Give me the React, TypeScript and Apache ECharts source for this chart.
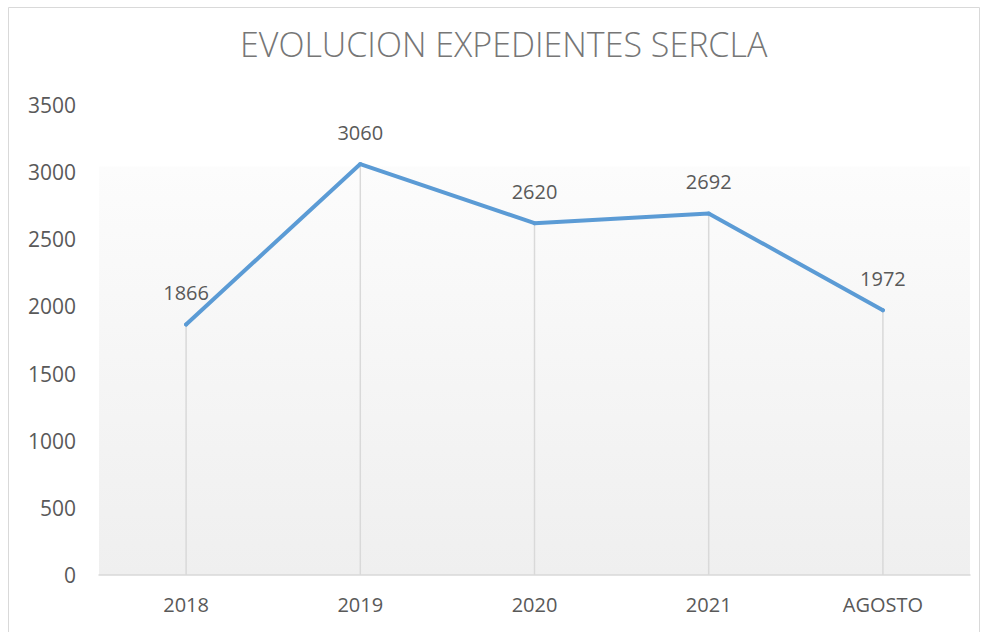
import React, { useEffect, useRef } from "react";
import * as echarts from "echarts";

const categories = ["2018", "2019", "2020", "2021", "AGOSTO"];
const values = [1866, 3060, 2620, 2692, 1972];
const titleText = "EVOLUCION EXPEDIENTES SERCLA";

export default function App() {
  const ref = useRef<HTMLDivElement>(null);
  useEffect(() => {
    const chart = echarts.init(ref.current!, null, { renderer: "svg" });
    const font = "'Open Sans', sans-serif";
    chart.setOption({
      animation: false,
      backgroundColor: "#ffffff",
      title: {
        text: titleText,
        left: 240,
        top: 27,
        padding: 0,
        textStyle: { fontFamily: font, fontSize: 34, fontWeight: 300, color: "#767676" },
      },
      graphic: [
        {
          type: "rect",
          shape: { x: 8.5, y: 7.5, width: 971, height: 640 },
          style: { fill: "none", stroke: "#d9d9d9", lineWidth: 1 },
          silent: true,
          z: -1,
        },
      ],
      grid: {
        left: 99,
        right: 17,
        top: 105,
        bottom: 57,
        show: true,
        borderWidth: 0,
        backgroundColor: {
          type: "linear",
          x: 0,
          y: 0,
          x2: 0,
          y2: 1,
          colorStops: [
            { offset: 0, color: "#ffffff" },
            { offset: 0.13, color: "#ffffff" },
            { offset: 0.132, color: "#fcfcfc" },
            { offset: 1, color: "#efefef" },
          ],
        },
      },
      xAxis: {
        type: "category",
        data: categories,
        boundaryGap: true,
        axisLine: { lineStyle: { color: "#d9d9d9", width: 1.5 } },
        axisTick: { show: false },
        axisLabel: { color: "#595959", fontFamily: font, fontSize: 20, margin: 19 },
      },
      yAxis: {
        type: "value",
        min: 0,
        max: 3500,
        interval: 500,
        axisLine: { show: false },
        axisTick: { show: false },
        splitLine: { show: false },
        axisLabel: {
          color: "#595959",
          fontFamily: font,
          fontSize: 21,
          margin: 23,
          formatter: (v: number) => String(v),
        },
      },
      series: [
        {
          type: "bar",
          data: values,
          barWidth: 1.5,
          itemStyle: { color: "#d9d9d9" },
          silent: true,
          z: 1,
        },
        {
          type: "line",
          data: values,
          symbol: "circle",
          symbolSize: 4,
          showSymbol: true,
          itemStyle: { color: "#5b9bd5" },
          lineStyle: { color: "#5b9bd5", width: 4, cap: "round" },
          label: {
            show: true,
            position: "top",
            distance: 20,
            color: "#595959",
            fontFamily: font,
            fontSize: 20,
          },
          z: 3,
        },
      ],
    });
    return () => chart.dispose();
  }, []);
  return (
    <div
      ref={ref}
      style={{ position: "fixed", left: 0, top: 0, width: 987, height: 632 }}
    />
  );
}
